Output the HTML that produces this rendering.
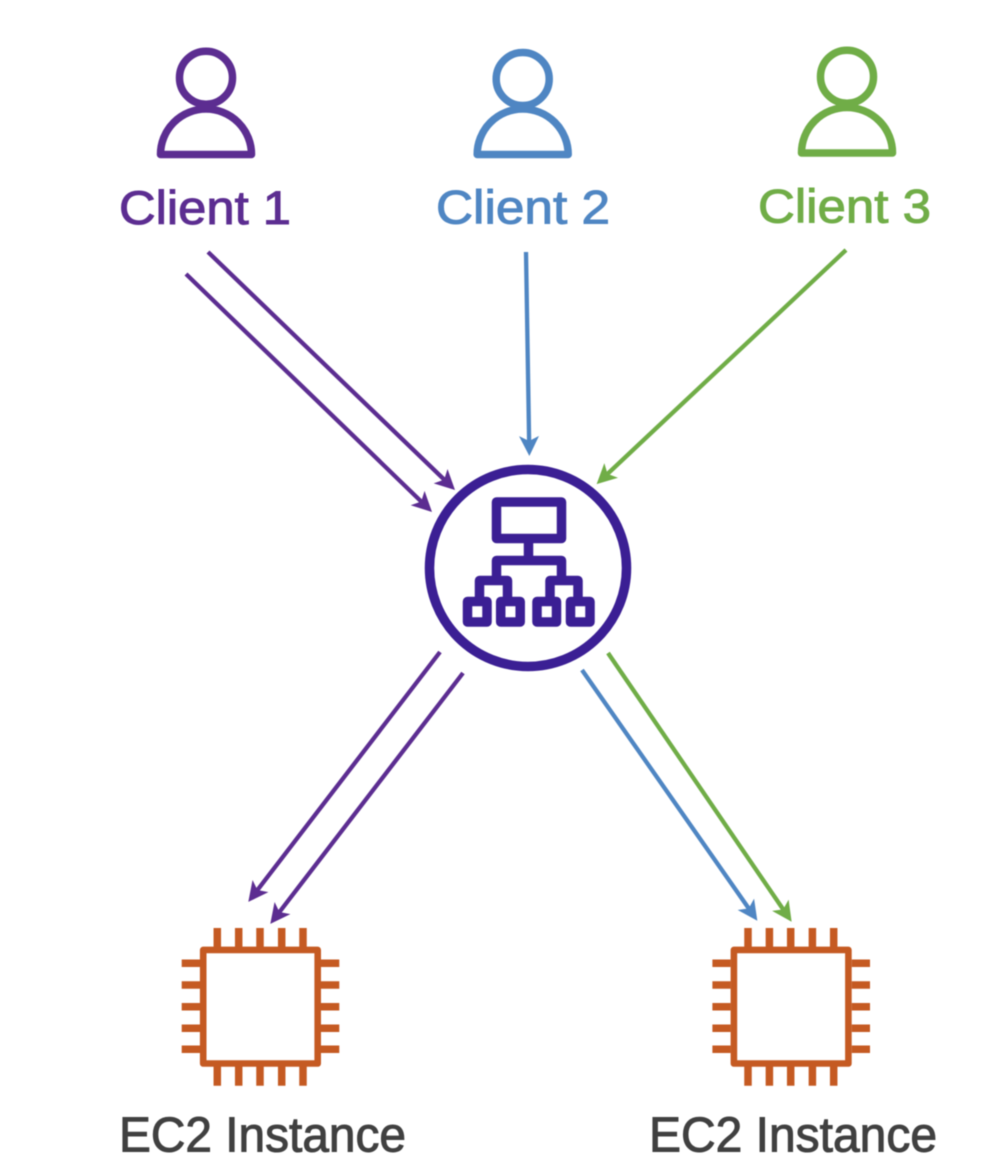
<!DOCTYPE html>
<html>
<head>
<meta charset="utf-8">
<style>
html,body{margin:0;padding:0;background:#fff;width:994px;height:1176px;overflow:hidden}
svg{display:block;filter:blur(.5px)}
text{font-family:"Liberation Sans",sans-serif;stroke-width:1}
</style>
</head>
<body>
<svg width="994" height="1176" viewBox="0 0 994 1176" xmlns="http://www.w3.org/2000/svg">
<defs>
<marker id="mp" markerUnits="userSpaceOnUse" viewBox="-24 -12 48 24" markerWidth="48" markerHeight="24" refX="-10" refY="0" orient="auto"><path d="M0 0L-20 -10L-15 0L-20 10Z" fill="#5c2d91"/></marker>
<marker id="mb" markerUnits="userSpaceOnUse" viewBox="-24 -12 48 24" markerWidth="48" markerHeight="24" refX="-10" refY="0" orient="auto"><path d="M0 0L-20 -10L-15 0L-20 10Z" fill="#4f86c3"/></marker>
<marker id="mg" markerUnits="userSpaceOnUse" viewBox="-24 -12 48 24" markerWidth="48" markerHeight="24" refX="-10" refY="0" orient="auto"><path d="M0 0L-20 -10L-15 0L-20 10Z" fill="#70ad47"/></marker>
</defs>

<!-- Clients -->
<g fill="none" stroke-width="7.5" stroke-linejoin="round">
<g stroke="#5c2d91"><circle cx="206" cy="77.7" r="26.5"/><path d="M160.5 154.5A45.5 45.5 0 0 1 251.5 154.5Z"/></g>
<g stroke="#4f86c3"><circle cx="522.7" cy="79" r="26.5"/><path d="M477.2 154.5A45.5 45.5 0 0 1 568.2 154.5Z"/></g>
<g stroke="#70ad47"><circle cx="847" cy="76.7" r="26.5"/><path d="M801.5 153A45.5 45.5 0 0 1 892.5 153Z"/></g>
</g>
<text x="119" y="224" font-size="47" fill="#5c2d91" stroke="#5c2d91" textLength="172" lengthAdjust="spacingAndGlyphs">Client 1</text>
<text x="436" y="223.5" font-size="47" fill="#4f86c3" stroke="#4f86c3" textLength="174" lengthAdjust="spacingAndGlyphs">Client 2</text>
<text x="758" y="222.7" font-size="47" fill="#70ad47" stroke="#70ad47" textLength="173" lengthAdjust="spacingAndGlyphs">Client 3</text>

<!-- Connectors -->
<g fill="none" stroke-width="4.3">
<path d="M208 252L447.8 483.1" stroke="#5c2d91" marker-end="url(#mp)"/>
<path d="M186 274L424.8 505" stroke="#5c2d91" marker-end="url(#mp)"/>
<path d="M526 252L529.2 446" stroke="#4f86c3" marker-end="url(#mb)"/>
<path d="M846 250L603.9 477.3" stroke="#70ad47" marker-end="url(#mg)"/>
<path d="M440 652L254.4 894" stroke="#5c2d91" marker-end="url(#mp)"/>
<path d="M463 673L276.4 916" stroke="#5c2d91" marker-end="url(#mp)"/>
<path d="M582 670L751.6 912.5" stroke="#4f86c3" marker-end="url(#mb)"/>
<path d="M608 653L786 913.5" stroke="#70ad47" marker-end="url(#mg)"/>
</g>

<!-- Load balancer -->
<g fill="none" stroke="#3b1f94" stroke-linejoin="round">
<circle cx="528" cy="568" r="98.5" stroke-width="9.5"/>
<g stroke-width="9.5">
<rect x="496.5" y="502" width="65" height="36.5"/>
<path d="M528.5 539V560.5M496.5 578V560.5H561.5V578M479.5 597V580.5H507.5V597M550 597V580.5H578V597"/>
<rect x="467.5" y="601.5" width="19.5" height="20.5"/>
<rect x="500.7" y="601.5" width="19.5" height="20.5"/>
<rect x="537" y="601.5" width="19.5" height="20.5"/>
<rect x="570.5" y="601.5" width="19.5" height="20.5"/>
</g>
</g>

<!-- EC2 left -->
<g fill="none" stroke="#c55a22" stroke-width="7.5">
<rect x="203.2" y="949.9" width="114.5" height="113.6" stroke-width="6.6" stroke-linejoin="round"/>
<path d="M217.3 928V947M238.7 928V947M260 928V947M281.7 928V947M303 928V947"/>
<path d="M217.3 1066V1085.7M238.7 1066V1085.7M260 1066V1085.7M281.7 1066V1085.7M303 1066V1085.7"/>
<path d="M181.7 963.3H200M181.7 985H200M181.7 1006.7H200M181.7 1028.3H200M181.7 1049.3H200"/>
<path d="M321 963.3H339.3M321 985H339.3M321 1006.7H339.3M321 1028.3H339.3M321 1049.3H339.3"/>
</g>
<!-- EC2 right -->
<g fill="none" stroke="#c55a22" stroke-width="7.5" transform="translate(530.7 0)">
<rect x="203.2" y="949.9" width="114.5" height="113.6" stroke-width="6.6" stroke-linejoin="round"/>
<path d="M217.3 928V947M238.7 928V947M260 928V947M281.7 928V947M303 928V947"/>
<path d="M217.3 1066V1085.7M238.7 1066V1085.7M260 1066V1085.7M281.7 1066V1085.7M303 1066V1085.7"/>
<path d="M181.7 963.3H200M181.7 985H200M181.7 1006.7H200M181.7 1028.3H200M181.7 1049.3H200"/>
<path d="M321 963.3H339.3M321 985H339.3M321 1006.7H339.3M321 1028.3H339.3M321 1049.3H339.3"/>
</g>
<text x="119" y="1151.7" font-size="49" fill="#404040" stroke="#404040" textLength="287" lengthAdjust="spacingAndGlyphs">EC2 Instance</text>
<text x="649" y="1151.7" font-size="49" fill="#404040" stroke="#404040" textLength="288" lengthAdjust="spacingAndGlyphs">EC2 Instance</text>
</svg>
</body>
</html>
